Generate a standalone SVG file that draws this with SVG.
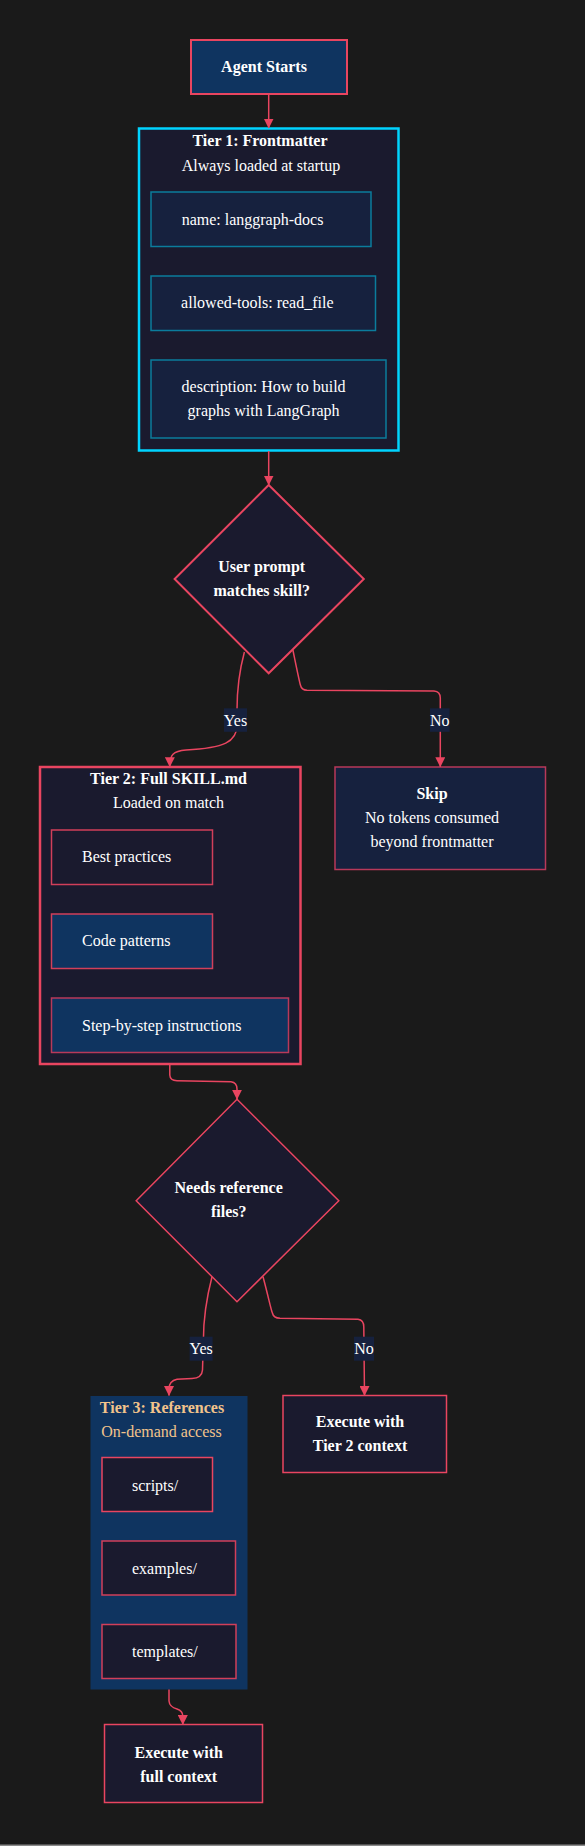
<svg xmlns="http://www.w3.org/2000/svg" width="585" height="1846" viewBox="0 0 585 1846">
<defs>
<marker id="arr" markerWidth="10" markerHeight="10" refX="5" refY="9.5" orient="0" markerUnits="userSpaceOnUse">
<path d="M0,0 L10,0 L5,10 Z" fill="#e94560"/>
</marker>
<style>
text{font-family:"Liberation Serif","Times New Roman",serif;font-size:16px;fill:#ffffff;dominant-baseline:central}
.b{font-weight:bold}
.m{text-anchor:middle}
.edge{fill:none;stroke:#e94560;stroke-width:1.5}
.lbl{fill:#16213e}
.cl{stroke-width:2.5}
.n{stroke-width:1.5}
.tan{fill:#f2c38b}
</style>
</defs>
<rect x="0" y="0" width="585" height="1846" fill="#1a1a1a"/>
<rect x="0" y="1844.5" width="585" height="1.5" fill="#8a8a8a"/>

<g id="start">
<rect x="191" y="40" width="156" height="54" fill="#0f3460" stroke="#e94560" stroke-width="2"/>
<text class="b m" x="264" y="66.5">Agent Starts</text>
</g>

<g id="tier1">
<rect x="139" y="128.5" width="259.5" height="322" fill="#1a1a2e" stroke="#00d4ff" class="cl"/>
<text class="b m" x="260" y="140.5">Tier 1: Frontmatter</text>
<text class="m" x="261" y="165">Always loaded at startup</text>
<g id="fm_name">
<rect x="151" y="192" width="220" height="54.5" fill="#16213e" stroke="#0b7c9c" class="n"/>
<text class="m" x="252.5" y="219">name: langgraph-docs</text>
</g>
<g id="fm_tools">
<rect x="151" y="276" width="224.5" height="54.5" fill="#16213e" stroke="#0b7c9c" class="n"/>
<text class="m" x="257.3" y="302.5">allowed-tools: read_file</text>
</g>
<g id="fm_desc">
<rect x="151" y="360" width="235" height="78" fill="#16213e" stroke="#0b7c9c" class="n"/>
<text class="m" x="263.6" y="386.5">description: How to build</text>
<text class="m" x="263.6" y="410.5">graphs with LangGraph</text>
</g>
</g>

<g id="match">
<polygon points="268.7,485 363.8,579 268.7,673.3 174.6,579" fill="#1a1a2e" stroke="#e94560" stroke-width="2"/>
<text class="b m" x="261.7" y="566.7">User prompt</text>
<text class="b m" x="261.7" y="590.7">matches skill?</text>
</g>

<g id="tier2">
<rect x="40" y="767" width="260.5" height="297" fill="#1a1a2e" stroke="#e94560" class="cl"/>
<text class="b m" x="168.5" y="778.3">Tier 2: Full SKILL.md</text>
<text class="m" x="168.5" y="802.7">Loaded on match</text>
<g id="best">
<rect x="51.5" y="830" width="161" height="54.5" fill="#1a1a2e" stroke="#d13f5a" class="n"/>
<text x="82" y="856.7">Best practices</text>
</g>
<g id="code">
<rect x="51.5" y="914" width="161" height="54.5" fill="#0f3460" stroke="#d13f5a" class="n"/>
<text x="82" y="940.7">Code patterns</text>
</g>
<g id="steps">
<rect x="51.5" y="998" width="237" height="54.5" fill="#0f3460" stroke="#b8395a" class="n"/>
<text x="82" y="1025">Step-by-step instructions</text>
</g>
</g>

<g id="skip">
<rect x="335" y="767" width="210.5" height="102.5" fill="#16213e" stroke="#b8395a" class="n"/>
<text class="b m" x="432" y="793.3">Skip</text>
<text class="m" x="432" y="817.3">No tokens consumed</text>
<text class="m" x="432" y="841.3">beyond frontmatter</text>
</g>

<g id="needs">
<polygon points="237,1099.3 338.8,1200.7 237,1301.7 136.2,1200.7" fill="#1a1a2e" stroke="#e94560" stroke-width="1.5"/>
<text class="b m" x="228.7" y="1187.7">Needs reference</text>
<text class="b m" x="228.7" y="1211.7">files?</text>
</g>

<g id="tier3">
<rect x="90.5" y="1396" width="157" height="293.5" fill="#0f3460"/>
<text class="b m tan" x="162" y="1407.3">Tier 3: References</text>
<text class="m tan" x="161.5" y="1431">On-demand access</text>
<g id="scripts">
<rect x="102" y="1457.5" width="110.5" height="54" fill="#1a1a2e" stroke="#e94560" class="n"/>
<text x="132" y="1485">scripts/</text>
</g>
<g id="examples">
<rect x="102" y="1541" width="133.5" height="54" fill="#1a1a2e" stroke="#d13f5a" class="n"/>
<text x="132" y="1568.3">examples/</text>
</g>
<g id="templates">
<rect x="102" y="1624.5" width="134" height="54" fill="#1a1a2e" stroke="#d13f5a" class="n"/>
<text x="132" y="1651.7">templates/</text>
</g>
</g>

<g id="exec2">
<rect x="283" y="1395.5" width="163.5" height="77" fill="#1a1a2e" stroke="#e94560" class="n"/>
<text class="b m" x="360" y="1421.7">Execute with</text>
<text class="b m" x="360" y="1445.7">Tier 2 context</text>
</g>

<g id="execfull">
<rect x="104.5" y="1724.5" width="158" height="78" fill="#1a1a2e" stroke="#e94560" class="n"/>
<text class="b m" x="178.7" y="1752">Execute with</text>
<text class="b m" x="178.7" y="1776">full context</text>
</g>

<g id="connectors">
<path class="edge" d="M268.7,94 L268.7,128" marker-end="url(#arr)"/>
<path class="edge" d="M268.7,451 L268.7,485" marker-end="url(#arr)"/>
<path class="edge" d="M244.4,652 C239,672 237,690 237,710 L237,725 C237,742 224,748 186,750 C173,751 169.8,755 169.8,766.7" marker-end="url(#arr)"/>
<path class="edge" d="M292.9,650 C296,665 299,680 300.4,685 Q301.5,690 307,690.3 L434,691 Q440.3,691.5 440.3,698 L440.3,766.7" marker-end="url(#arr)"/>
<path class="edge" d="M169.8,1064 L169.8,1075 Q170,1080.5 177,1080.7 L231,1081.7 Q237,1082.5 237,1089 L237,1099.3" marker-end="url(#arr)"/>
<path class="edge" d="M212,1276.7 C206,1300 203.4,1320 203.4,1340 L202.5,1370 Q202,1378 192,1378.5 L177,1379.3 Q169,1381 169,1389 L169,1395.5" marker-end="url(#arr)"/>
<path class="edge" d="M263,1276.7 C268,1295 271,1310 272.4,1313 Q273.5,1318 280,1318.3 L358,1319.3 Q363.8,1320 363.8,1327 L364.5,1395.5" marker-end="url(#arr)"/>
<path class="edge" d="M169,1689.5 L169,1701 Q169.5,1707 177,1709 Q182.8,1711 182.8,1716 L182.8,1724.5" marker-end="url(#arr)"/>
<g id="lbl_yes1"><rect class="lbl" x="224" y="708.3" width="23" height="23.5"/><text class="m" x="235.5" y="720">Yes</text></g>
<g id="lbl_no1"><rect class="lbl" x="430" y="708.3" width="19.6" height="23.5"/><text class="m" x="439.8" y="720">No</text></g>
<g id="lbl_yes2"><rect class="lbl" x="189.6" y="1336.7" width="23" height="24"/><text class="m" x="201.1" y="1348.7">Yes</text></g>
<g id="lbl_no2"><rect class="lbl" x="354" y="1336.7" width="20" height="24"/><text class="m" x="364" y="1348.7">No</text></g>
</g>
</svg>
